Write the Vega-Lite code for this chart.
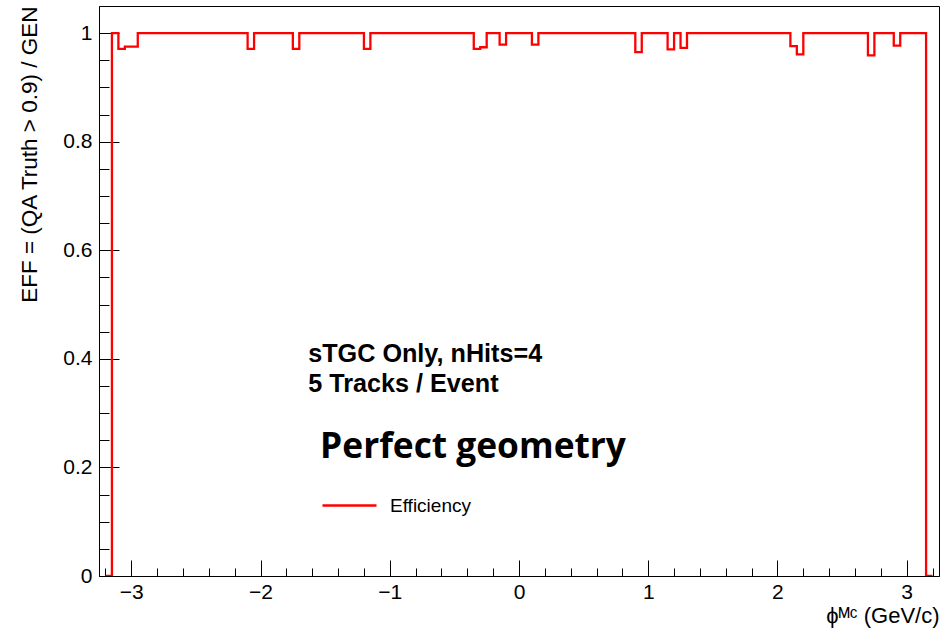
{
  "$schema": "https://vega.github.io/schema/vega-lite/v6.json",
  "width": 840,
  "height": 570,
  "autosize": "none",
  "padding": {"left": 99, "top": 6, "right": 4, "bottom": 57},
  "background": "white",
  "config": {
    "view": {"stroke": "black", "strokeWidth": 1},
    "font": "Liberation Sans",
    "axis": {
      "labelFont": "Liberation Sans",
      "titleFont": "Liberation Sans",
      "labelColor": "black",
      "titleColor": "black",
      "tickColor": "black",
      "domainColor": "black",
      "titleFontWeight": "normal",
      "grid": false
    }
  },
  "resolve": {"axis": {"x": "independent", "y": "independent"}},
  "layer": [
    {
      "data": {"values": [
        {"phi": -3.2, "eff": 0}, {"phi": -3.15, "eff": 1}, {"phi": -3.1, "eff": 0.971}, {"phi": -3.05, "eff": 0.975},
        {"phi": -3.0, "eff": 0.975}, {"phi": -2.95, "eff": 1}, {"phi": -2.9, "eff": 1}, {"phi": -2.85, "eff": 1},
        {"phi": -2.8, "eff": 1}, {"phi": -2.75, "eff": 1}, {"phi": -2.7, "eff": 1}, {"phi": -2.65, "eff": 1},
        {"phi": -2.6, "eff": 1}, {"phi": -2.55, "eff": 1}, {"phi": -2.5, "eff": 1}, {"phi": -2.45, "eff": 1},
        {"phi": -2.4, "eff": 1}, {"phi": -2.35, "eff": 1}, {"phi": -2.3, "eff": 1}, {"phi": -2.25, "eff": 1},
        {"phi": -2.2, "eff": 1}, {"phi": -2.15, "eff": 1}, {"phi": -2.1, "eff": 0.971}, {"phi": -2.05, "eff": 1},
        {"phi": -2.0, "eff": 1}, {"phi": -1.95, "eff": 1}, {"phi": -1.9, "eff": 1}, {"phi": -1.85, "eff": 1},
        {"phi": -1.8, "eff": 1}, {"phi": -1.75, "eff": 0.971}, {"phi": -1.7, "eff": 1}, {"phi": -1.65, "eff": 1},
        {"phi": -1.6, "eff": 1}, {"phi": -1.55, "eff": 1}, {"phi": -1.5, "eff": 1}, {"phi": -1.45, "eff": 1},
        {"phi": -1.4, "eff": 1}, {"phi": -1.35, "eff": 1}, {"phi": -1.3, "eff": 1}, {"phi": -1.25, "eff": 1},
        {"phi": -1.2, "eff": 0.971}, {"phi": -1.15, "eff": 1}, {"phi": -1.1, "eff": 1}, {"phi": -1.05, "eff": 1},
        {"phi": -1.0, "eff": 1}, {"phi": -0.95, "eff": 1}, {"phi": -0.9, "eff": 1}, {"phi": -0.85, "eff": 1},
        {"phi": -0.8, "eff": 1}, {"phi": -0.75, "eff": 1}, {"phi": -0.7, "eff": 1}, {"phi": -0.65, "eff": 1},
        {"phi": -0.6, "eff": 1}, {"phi": -0.55, "eff": 1}, {"phi": -0.5, "eff": 1}, {"phi": -0.45, "eff": 1},
        {"phi": -0.4, "eff": 1}, {"phi": -0.35, "eff": 0.971}, {"phi": -0.3, "eff": 0.974}, {"phi": -0.25, "eff": 1},
        {"phi": -0.2, "eff": 1}, {"phi": -0.15, "eff": 0.979}, {"phi": -0.1, "eff": 1}, {"phi": -0.05, "eff": 1},
        {"phi": 0.0, "eff": 1}, {"phi": 0.05, "eff": 1}, {"phi": 0.1, "eff": 0.979}, {"phi": 0.15, "eff": 1},
        {"phi": 0.2, "eff": 1}, {"phi": 0.25, "eff": 1}, {"phi": 0.3, "eff": 1}, {"phi": 0.35, "eff": 1},
        {"phi": 0.4, "eff": 1}, {"phi": 0.45, "eff": 1}, {"phi": 0.5, "eff": 1}, {"phi": 0.55, "eff": 1},
        {"phi": 0.6, "eff": 1}, {"phi": 0.65, "eff": 1}, {"phi": 0.7, "eff": 1}, {"phi": 0.75, "eff": 1},
        {"phi": 0.8, "eff": 1}, {"phi": 0.85, "eff": 1}, {"phi": 0.9, "eff": 0.965}, {"phi": 0.95, "eff": 1},
        {"phi": 1.0, "eff": 1}, {"phi": 1.05, "eff": 1}, {"phi": 1.1, "eff": 1}, {"phi": 1.15, "eff": 0.97},
        {"phi": 1.2, "eff": 1}, {"phi": 1.25, "eff": 0.973}, {"phi": 1.3, "eff": 1}, {"phi": 1.35, "eff": 1},
        {"phi": 1.4, "eff": 1}, {"phi": 1.45, "eff": 1}, {"phi": 1.5, "eff": 1}, {"phi": 1.55, "eff": 1},
        {"phi": 1.6, "eff": 1}, {"phi": 1.65, "eff": 1}, {"phi": 1.7, "eff": 1}, {"phi": 1.75, "eff": 1},
        {"phi": 1.8, "eff": 1}, {"phi": 1.85, "eff": 1}, {"phi": 1.9, "eff": 1}, {"phi": 1.95, "eff": 1},
        {"phi": 2.0, "eff": 1}, {"phi": 2.05, "eff": 1}, {"phi": 2.1, "eff": 0.976}, {"phi": 2.15, "eff": 0.961},
        {"phi": 2.2, "eff": 1}, {"phi": 2.25, "eff": 1}, {"phi": 2.3, "eff": 1}, {"phi": 2.35, "eff": 1},
        {"phi": 2.4, "eff": 1}, {"phi": 2.45, "eff": 1}, {"phi": 2.5, "eff": 1}, {"phi": 2.55, "eff": 1},
        {"phi": 2.6, "eff": 1}, {"phi": 2.65, "eff": 1}, {"phi": 2.7, "eff": 0.959}, {"phi": 2.75, "eff": 1},
        {"phi": 2.8, "eff": 1}, {"phi": 2.85, "eff": 1}, {"phi": 2.9, "eff": 0.977}, {"phi": 2.95, "eff": 1},
        {"phi": 3.0, "eff": 1}, {"phi": 3.05, "eff": 1}, {"phi": 3.1, "eff": 1}, {"phi": 3.15, "eff": 0},
        {"phi": 3.2, "eff": 0}
      ]},
      "mark": {"type": "line", "interpolate": "step-after", "strokeWidth": 2.3, "clip": true},
      "encoding": {
        "x": {
          "field": "phi", "type": "quantitative",
          "scale": {"domain": [-3.25, 3.25], "nice": false, "zero": false},
          "axis": {
            "orient": "bottom",
            "values": [-3, -2, -1, 0, 1, 2, 3],
            "format": "d",
            "tickSize": -16,
            "labelPadding": 21,
            "labelFontSize": 21,
            "labelFlush": false,
            "title": "ϕᴹᶜ (GeV/c)",
            "titleAnchor": "end",
            "titleFontSize": 22,
            "titlePadding": 3
          }
        },
        "y": {
          "field": "eff", "type": "quantitative",
          "scale": {"domain": [0, 1.05], "nice": false, "zero": true},
          "axis": {
            "orient": "left",
            "values": [0, 0.2, 0.4, 0.6, 0.8, 1],
            "format": "~g",
            "tickSize": -20,
            "labelPadding": 27,
            "labelFontSize": 21,
            "title": "EFF = (QA Truth > 0.9) / GEN",
            "titleAnchor": "end",
            "titleFontSize": 22.5,
            "titlePadding": 21
          }
        },
        "color": {
          "datum": "Efficiency", "type": "nominal",
          "scale": {"range": ["#ff0000"]},
          "legend": {
            "orient": "none",
            "legendX": 222,
            "legendY": 471,
            "title": null,
            "padding": 0,
            "symbolType": "stroke",
            "symbolSize": 2916,
            "symbolStrokeWidth": 2.3,
            "labelFont": "Liberation Sans",
            "labelFontSize": 19,
            "labelColor": "black",
            "labelOffset": 12
          }
        }
      }
    },
    {
      "data": {"values": [
        {"phi": -1.631, "eff": 0.394, "label": "sTGC Only, nHits=4"},
        {"phi": -1.631, "eff": 0.3387, "label": "5 Tracks / Event"}
      ]},
      "mark": {"type": "text", "align": "left", "baseline": "alphabetic", "fontWeight": "bold", "fontSize": 25.2, "font": "Liberation Sans", "color": "black"},
      "encoding": {
        "x": {
          "field": "phi", "type": "quantitative",
          "axis": {
            "orient": "bottom",
            "values": [-3.2, -2.8, -2.6, -2.4, -2.2, -1.8, -1.6, -1.4, -1.2, -0.8, -0.6, -0.4, -0.2, 0.2, 0.4, 0.6, 0.8, 1.2, 1.4, 1.6, 1.8, 2.2, 2.4, 2.6, 2.8, 3.2],
            "tickSize": -8,
            "labels": false,
            "domain": false,
            "title": null
          }
        },
        "y": {
          "field": "eff", "type": "quantitative",
          "axis": {
            "orient": "left",
            "values": [0.05, 0.1, 0.15, 0.25, 0.3, 0.35, 0.45, 0.5, 0.55, 0.65, 0.7, 0.75, 0.85, 0.9, 0.95],
            "tickSize": -10,
            "labels": false,
            "domain": false,
            "title": null
          }
        },
        "text": {"field": "label", "type": "nominal"}
      }
    },
    {
      "data": {"values": [
        {"phi": -1.539, "eff": 0.2178, "label": "Perfect geometry"}
      ]},
      "mark": {"type": "text", "align": "left", "baseline": "alphabetic", "fontWeight": "bold", "fontSize": 35.3, "font": "Open Sans", "color": "black"},
      "encoding": {
        "x": {"field": "phi", "type": "quantitative", "axis": null},
        "y": {"field": "eff", "type": "quantitative", "axis": null},
        "text": {"field": "label", "type": "nominal"}
      }
    }
  ]
}
